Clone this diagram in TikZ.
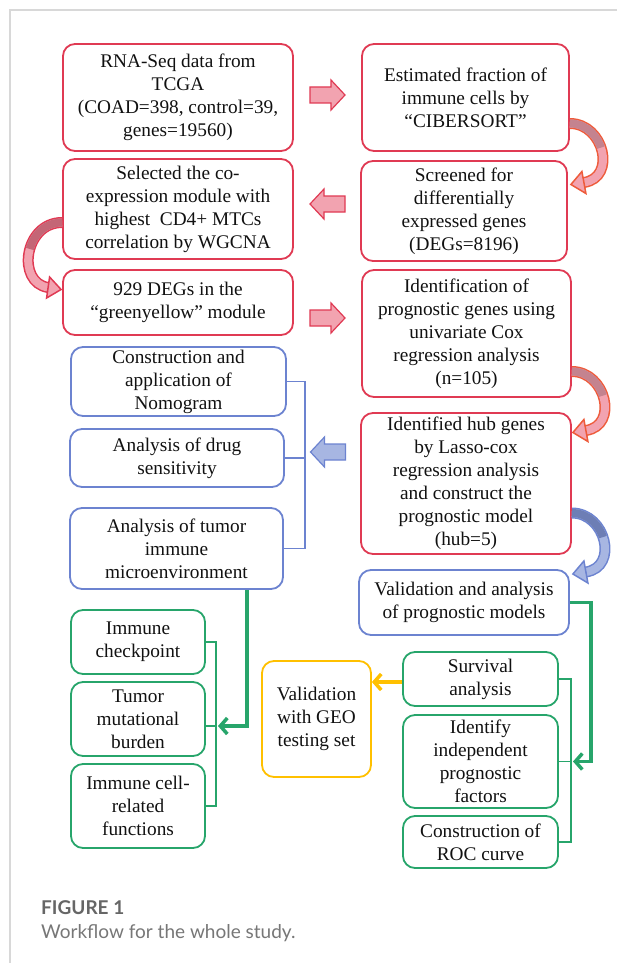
\documentclass[tikz,border=0pt]{standalone}
\usepackage{fontspec}
\setmainfont{Liberation Serif}
\newfontfamily\capfont{Lato}
\usetikzlibrary{arrows.meta,calc}
\definecolor{rb}{HTML}{E03A53}
\definecolor{rfill}{HTML}{F2A3B0}
\definecolor{rdark}{HTML}{C4838F}
\definecolor{rdarkL}{HTML}{C46676}
\definecolor{rorange}{HTML}{EE5B3B}
\definecolor{bb}{HTML}{6C83D0}
\definecolor{bfill}{HTML}{A7B6E2}
\definecolor{bdark}{HTML}{6D7EB5}
\definecolor{gb}{HTML}{27A56B}
\definecolor{yb}{HTML}{FFC000}
\definecolor{framec}{HTML}{D8D8D8}
\definecolor{capA}{HTML}{666666}
\definecolor{capB}{HTML}{777777}
\definecolor{txt}{HTML}{111111}
\begin{document}
\begin{tikzpicture}[x=1pt,y=-1pt,
  box/.style={draw, rounded corners=12pt, line width=1.8pt, align=center,
    font=\fontsize{19.3}{23}\selectfont, text=txt, inner sep=0pt, fill=white},
  redbox/.style={box, draw=rb},
  bluebox/.style={box, draw=bb},
  greenbox/.style={box, draw=gb},
  yellowbox/.style={box, draw=yb},
  bthin/.style={draw=bb, line width=1.5pt},
  gthin/.style={draw=gb, line width=1.5pt},
  gthick/.style={draw=gb, line width=3.5pt, -{Straight Barb[length=7pt,width=16pt]}},
  ythick/.style={draw=yb, line width=3.5pt, -{Straight Barb[length=7pt,width=16pt]}},
  pics/blockR/.style 2 args={code={
    \filldraw[fill=#1, draw=#2, line width=1.2pt, line join=miter]
      (-17.5,-8) -- (3.5,-8) -- (3.5,-15) -- (17.5,0) -- (3.5,15) -- (3.5,8) -- (-17.5,8) -- cycle;}},
  pics/blockL/.style 2 args={code={
    \filldraw[fill=#1, draw=#2, line width=1.2pt, line join=miter]
      (17.5,-8) -- (-3.5,-8) -- (-3.5,-15) -- (-17.5,0) -- (-3.5,15) -- (-3.5,8) -- (17.5,8) -- cycle;}},
  pics/curvR/.style n args={3}{code={
    \draw[line width=11pt, #3] (0,0) .. controls (34,0) and (47,54) .. (14,59);
    \draw[line width=8pt, #2] (0,0) .. controls (34,0) and (47,54) .. (14,59);
    \draw[line width=8pt, #1, dash pattern=on 42pt off 300pt] (0,0) .. controls (34,0) and (47,54) .. (14,59);
    \filldraw[fill=#2, draw=#3, line width=1.5pt, line join=miter] (12,48) -- (1,61) -- (16,70) -- cycle;}},
  pics/curvL/.style n args={3}{code={
    \draw[line width=11pt, #3] (0,0) .. controls (-38,0) and (-46,60) .. (-14,65);
    \draw[line width=8pt, #2] (0,0) .. controls (-38,0) and (-46,60) .. (-14,65);
    \draw[line width=8pt, #1, dash pattern=on 45pt off 300pt] (0,0) .. controls (-38,0) and (-46,60) .. (-14,65);
    \filldraw[fill=#2, draw=#3, line width=1.5pt, line join=miter] (-12.5,54.5) -- (-1,67) -- (-15.5,75.5) -- cycle;}}
]
\useasboundingbox (0,0) rectangle (617,963);
\fill[white] (0,0) rectangle (617,963);
\draw[framec, line width=1.5pt] (617,10) -- (10,10) -- (10,963);

% red boxes
\node[redbox, minimum width=230pt, minimum height=107pt] (A) at (178,97.5)
  {RNA-Seq data from\\TCGA\\(COAD=398, control=39,\\genes=19560)};
\node[redbox, minimum width=207pt, minimum height=107pt] (B) at (465.5,97.5)
  {Estimated fraction of\\immune cells by\\“CIBERSORT”};
\node[redbox, minimum width=230pt, minimum height=100pt] (C) at (178,209)
  {Selected the co-\\expression module with\\highest~~CD4+ MTCs\\correlation by WGCNA};
\node[redbox, minimum width=206pt, minimum height=100pt] (D) at (464,211)
  {Screened for\\differentially\\expressed genes\\(DEGs=8196)};
\node[redbox, minimum width=230pt, minimum height=65pt] (E) at (178,302.5)
  {929 DEGs in the\\“greenyellow” module};
\node[redbox, minimum width=209pt, minimum height=127pt] (F) at (466.5,333.5)
  {Identification of\\prognostic genes using\\univariate Cox\\regression analysis\\(n=105)};
\node[redbox, minimum width=210pt, minimum height=141pt] (J) at (466,483.5)
  {Identified hub genes\\by Lasso-cox\\regression analysis\\and construct the\\prognostic model\\(hub=5)};

% blue boxes
\node[bluebox, minimum width=215pt, minimum height=69pt] (G) at (178.5,381.5)
  {Construction and\\application of\\Nomogram};
\node[bluebox, minimum width=214pt, minimum height=58pt] (H) at (177,458)
  {Analysis of drug\\sensitivity};
\node[bluebox, minimum width=213pt, minimum height=81pt] (I) at (176.5,548.5)
  {Analysis of tumor\\immune\\microenvironment};
\node[bluebox, minimum width=210pt, minimum height=65pt] (K) at (464,602.5)
  {Validation and analysis\\of prognostic models};

% green boxes
\node[greenbox, minimum width=134pt, minimum height=64pt] (L) at (138,642)
  {Immune\\checkpoint};
\node[greenbox, minimum width=134pt, minimum height=74pt] (M) at (138,719)
  {Tumor\\mutational\\burden};
\node[greenbox, minimum width=134pt, minimum height=84pt] (N) at (138,806)
  {Immune cell-\\related\\functions};
\node[greenbox, minimum width=155pt, minimum height=54pt] (P) at (480.5,679)
  {Survival\\analysis};
\node[greenbox, minimum width=155pt, minimum height=93pt] (Q) at (480.5,761.5)
  {Identify\\independent\\prognostic\\factors};
\node[greenbox, minimum width=155pt, minimum height=52pt] (R) at (480.5,842)
  {Construction of\\ROC curve};

% yellow box
\node[yellowbox, minimum width=109pt, minimum height=116pt] (O) at (316.5,719)
  {Validation\\with GEO\\testing set};

% block arrows
\pic at (327.5,95) {blockR={rfill}{rb}};
\pic at (327.5,204) {blockL={rfill}{rb}};
\pic at (327.5,318) {blockR={rfill}{rb}};
\pic at (328,452) {blockL={bfill}{bb}};

% curved arrows
\pic at ($(B.east)+(0,26)$) {curvR={rdark}{rfill}{rorange}};
\pic at ($(F.east)+(0,38)$) {curvR={rdark}{rfill}{rorange}};
\pic at ($(J.east)+(0,29.5)$) {curvR={bdark}{bfill}{bb}};
\pic at ($(C.west)+(0,13.5)$) {curvL={rdarkL}{rfill}{rb}};

% blue bracket
\coordinate (bxv) at (305,0);
\draw[bthin] (G.east) -- (G.east -| bxv) -- (I.east -| bxv) -- (I.east);
\draw[bthin] (H.east) -- (H.east -| bxv);

% green bracket left
\coordinate (gxl) at (216,0);
\coordinate (mt) at ($(M.east)+(0,7)$);
\draw[gthin] (L.east) -- (L.east -| gxl) -- (N.east -| gxl) -- (N.east);
\draw[gthin] (mt) -- (mt -| gxl);
\coordinate (gtipL) at (218,726);
\draw[gthick] ($(I.south)+(70.5,0)$) |- (gtipL);

% green bracket right
\coordinate (gxr) at (571,0);
\draw[gthin] (P.east) -- (P.east -| gxr) -- (R.east -| gxr) -- (R.east);
\draw[gthin] (Q.east) -- (Q.east -| gxr);
\coordinate (gtipR) at (573,761.5);
\draw[gthick] (K.east) -- ++(21,0) |- (gtipR);

% yellow arrow
\coordinate (ys) at ($(P.west)+(0,3)$);
\draw[ythick] (ys) -- (ys -| O.east);

% caption
\node[anchor=base west, inner sep=0pt, text=capA, font=\capfont\bfseries\fontsize{19}{23}\selectfont] (cap1) at (41,914) {FIGURE 1};
\node[anchor=base west, inner sep=0pt, text=capB, font=\capfont\fontsize{19}{23}\selectfont] (cap2) at (41,938) {Workflow for the whole study.};
\end{tikzpicture}
\end{document}
